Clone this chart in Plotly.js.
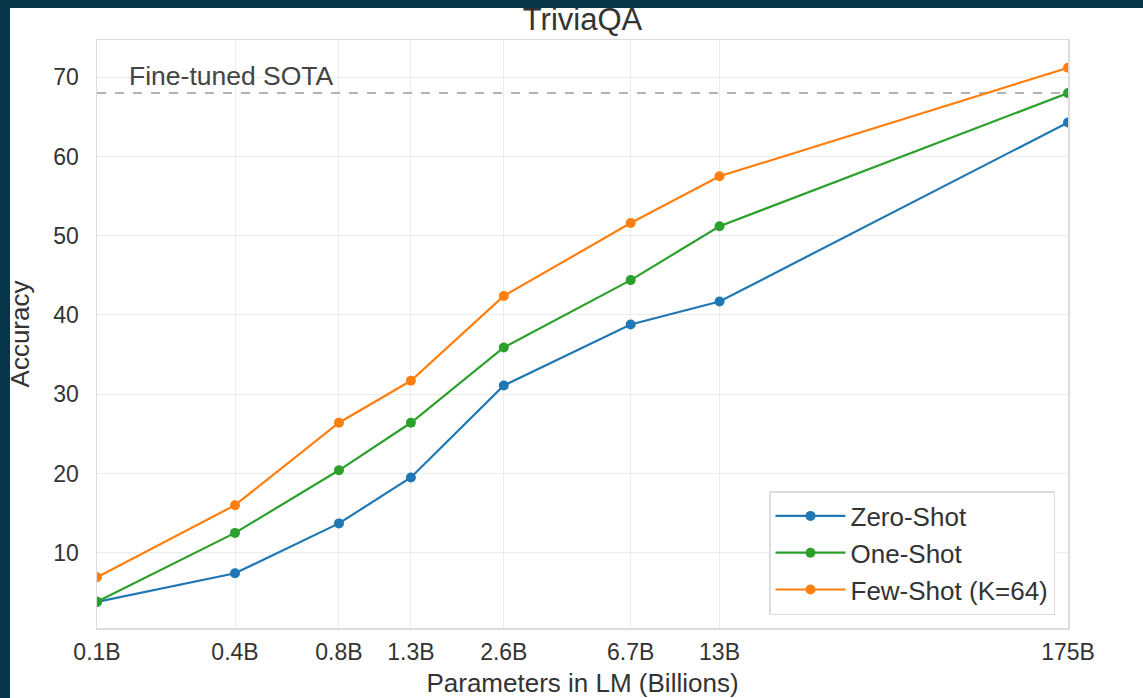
<!DOCTYPE html>
<html>
<head>
<meta charset="utf-8">
<script src="https://cdn.plot.ly/plotly-3.0.1.min.js"></script>
<style>
  html, body { margin: 0; padding: 0; background: #073549; }
  #chart { width: 1143px; height: 698px; }
</style>
</head>
<body>
<div id="chart"></div>
<script>
// ---- data ----
const params = [0.125, 0.35, 0.76, 1.3, 2.6, 6.7, 13, 175];          // billions
const tickLabels = ['0.1B', '0.4B', '0.8B', '1.3B', '2.6B', '6.7B', '13B', '175B'];
const zeroShot = [3.8, 7.4, 13.7, 19.5, 31.1, 38.8, 41.7, 64.3];
const oneShot  = [3.8, 12.5, 20.4, 26.4, 35.9, 44.4, 51.2, 68.0];
const fewShot  = [6.9, 16.0, 26.4, 31.7, 42.4, 51.6, 57.5, 71.2];
const sotaValue = 68.0;
const sotaLabel = 'Fine-tuned SOTA';
const seriesNames = ['Zero-Shot', 'One-Shot', 'Few-Shot (K=64)'];
const yTicks = [10, 20, 30, 40, 50, 60, 70];

const colors = ['#1f77b4', '#2ca02c', '#ff7f0e'];
const FONT = 'Liberation Sans, Arial, Helvetica, sans-serif';

function series(y, i) {
  return {
    x: params, y: y, name: seriesNames[i], type: 'scatter', mode: 'lines+markers',
    line: { color: colors[i], width: 2.2 },
    marker: { color: colors[i], size: 10 }
  };
}

const traces = [
  {
    x: [params[0], params[params.length - 1]], y: [sotaValue, sotaValue],
    type: 'scatter', mode: 'lines', showlegend: false, hoverinfo: 'skip',
    line: { color: '#9a9a9a', width: 1.5, dash: 'dash' }
  },
  series(zeroShot, 0),
  series(oneShot, 1),
  series(fewShot, 2)
];

const W = 1143, H = 698;
const L = 97, R = 75, T = 40, B = 70;
const pw = W - L - R, ph = H - T - B;

const layout = {
  width: W, height: H,
  margin: { l: L, r: R, t: T, b: B, pad: 0 },
  paper_bgcolor: '#073549',
  plot_bgcolor: '#ffffff',
  font: { family: FONT, color: '#333333', size: 23 },
  title: {
    text: 'TriviaQA', x: 0.5, xref: 'paper', xanchor: 'center',
    y: 1 - 19 / H, yref: 'container', yanchor: 'middle',
    font: { family: FONT, size: 31, color: '#333333' }
  },
  shapes: [
    {
      type: 'rect', xref: 'paper', yref: 'paper', layer: 'below',
      x0: (10 - L) / pw, x1: (W - L) / pw + 0.01,
      y0: -(B + 5) / ph, y1: (H - 8 - B) / ph,
      fillcolor: '#ffffff', line: { width: 0 }
    }
  ],
  xaxis: {
    type: 'log',
    range: [Math.log10(params[0]), Math.log10(params[params.length - 1])],
    tickmode: 'array', tickvals: params, ticktext: tickLabels,
    showgrid: true, gridcolor: '#ececec', gridwidth: 1,
    showline: true, mirror: true, linecolor: '#dcdcdc', linewidth: 1.5,
    ticks: '', zeroline: false, ticklabelstandoff: 3,
    tickfont: { family: FONT, size: 23, color: '#333333' },
    title: { text: 'Parameters in LM (Billions)', standoff: 20,
             font: { family: FONT, size: 26, color: '#333333' } },
    automargin: false
  },
  yaxis: {
    range: [0.5, 74.7],
    tickmode: 'array', tickvals: yTicks,
    showgrid: true, gridcolor: '#ececec', gridwidth: 1,
    showline: true, mirror: true, linecolor: '#dcdcdc', linewidth: 1.5,
    ticks: '', zeroline: false, ticklabelstandoff: 12,
    tickfont: { family: FONT, size: 23, color: '#333333' },
    title: { text: 'Accuracy', standoff: 16,
             font: { family: FONT, size: 26, color: '#333333' } },
    automargin: false
  },
  annotations: [
    {
      text: sotaLabel, xref: 'paper', yref: 'y',
      x: (127 - L) / pw, y: sotaValue, xanchor: 'left', yanchor: 'bottom',
      yshift: 0, showarrow: false,
      font: { family: FONT, size: 26.5, color: '#444444' }
    }
  ],
  legend: {
    x: (1055 - L) / pw, xanchor: 'right', y: (H - B - 615) / ph, yanchor: 'bottom',
    bgcolor: '#ffffff', bordercolor: '#dddddd', borderwidth: 1.5,
    font: { family: FONT, size: 26, color: '#333333' },
    itemwidth: 70
  },
  showlegend: true
};

Plotly.newPlot('chart', traces, layout, { displayModeBar: false, staticPlot: true });
</script>
</body>
</html>
